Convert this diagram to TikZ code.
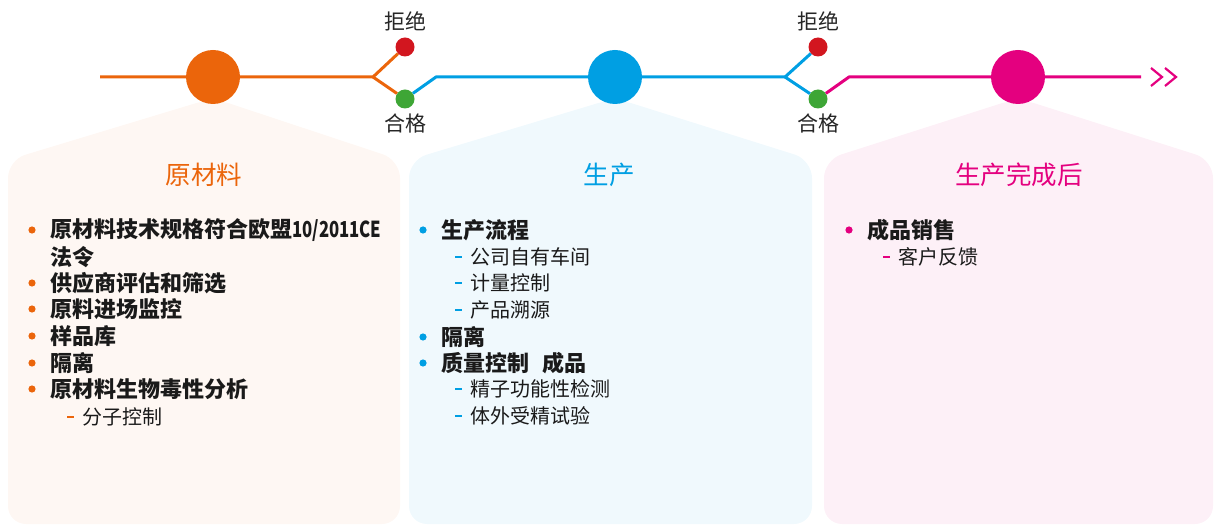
\documentclass[tikz,border=0pt]{standalone}
\usepackage{fontspec}
\setmainfont{Noto Sans CJK SC}
\usetikzlibrary{positioning}

\definecolor{matorange}{HTML}{EB650B}
\definecolor{prodblue}{HTML}{009FE3}
\definecolor{postpink}{HTML}{E4007F}
\definecolor{rejred}{HTML}{D2161F}
\definecolor{passgreen}{HTML}{3EA636}
\definecolor{inktext}{HTML}{1A1A1A}

% bullet line: name, x, y, colour, text
\newcommand{\mainitem}[5]{%
  \node[mainline] (#1) at (#2,#3) {#5};
  \fill[#4] ([xshift=-18pt]#1.west) circle (3.6pt);}
% dash line: name, x, y, colour, text
\newcommand{\subline}[5]{%
  \node[subitemtxt] (#1) at (#2,#3) {#5};
  \draw[#4,line width=1.6pt] ([xshift=-15pt]#1.west) -- ([xshift=-8pt]#1.west);}

\begin{document}
\begin{tikzpicture}[x=1pt,y=-1pt,
    stage/.style={circle,minimum size=54pt,inner sep=0pt},
    gate/.style={circle,minimum size=19pt,inner sep=0pt},
    track/.style={line width=3pt,line join=round},
    panel/.style={rounded corners=18pt},
    title/.style={font=\fontsize{25.5}{30}\selectfont},
    gatelabel/.style={font=\fontsize{21}{25}\selectfont,text=black!85},
    mainline/.style={anchor=west,inner sep=0pt,text=inktext,font=\fontsize{22}{26}\selectfont\bfseries},
    subitemtxt/.style={anchor=west,inner sep=0pt,text=inktext,font=\fontsize{20}{24}\selectfont}]
  \useasboundingbox (0,0) rectangle (1215,526);

  % panels
  \fill[panel,matorange!5] (8,160) -- (213,98) -- (400,160) -- (400,524) -- (8,524) -- cycle;
  \fill[panel,prodblue!6] (409,160) -- (615,98) -- (812,160) -- (812,524) -- (409,524) -- cycle;
  \fill[panel,postpink!6] (824,160) -- (1018,98) -- (1213,160) -- (1213,524) -- (824,524) -- cycle;

  % timeline
  \coordinate (start) at (100,77);
  \node[stage,fill=matorange] (raw) at (213,77) {};
  \coordinate (fork1) at (373,77);
  \node[gate,fill=rejred] (rej1) at (405,47) {};
  \node[gate,fill=passgreen] (ok1) at (405,99) {};
  \coordinate (bend1) at (436,77);
  \node[stage,fill=prodblue] (prod) at (615,77) {};
  \coordinate (fork2) at (785,77);
  \node[gate,fill=rejred] (rej2) at (818,47) {};
  \node[gate,fill=passgreen] (ok2) at (818,99) {};
  \coordinate (bend2) at (849,77);
  \node[stage,fill=postpink] (post) at (1018,77) {};
  \coordinate (stop) at (1141,77);

  \draw[track,matorange] (start) -- (raw) -- (fork1) -- (rej1);
  \draw[track,matorange] (fork1) -- (ok1);
  \draw[track,prodblue] (ok1) -- (bend1) -- (prod) -- (fork2) -- (rej2);
  \draw[track,prodblue] (fork2) -- (ok2);
  \draw[track,postpink] (ok2) -- (bend2) -- (post) -- (stop);
  \draw[postpink,line width=2.2pt] ([xshift=10pt,yshift=9pt]stop) -- ++(11,9) -- ++(-11,9);
  \draw[postpink,line width=2.2pt] ([xshift=24pt,yshift=9pt]stop) -- ++(11,9) -- ++(-11,9);

  \node[gatelabel] (rej1txt) at (405,21) {拒绝};
  \node[gatelabel] (ok1txt) at (405,124) {合格};
  \node[gatelabel] (rej2txt) at (818,21) {拒绝};
  \node[gatelabel] (ok2txt) at (818,124) {合格};

  % titles
  \node[title,text=matorange] (rawtitle) at (204,175) {原材料};
  \node[title,text=prodblue] (prodtitle) at (609,175) {生产};
  \node[title,text=postpink] (posttitle) at (1019,175) {生产完成后};

  % raw material list
  \mainitem{r1}{50}{230}{matorange}{原材料技术规格符合欧盟\scalebox{0.76}[1]{10/2011CE}}
  \node[mainline] (r1b) at (50,257) {法令};
  \mainitem{r2}{50}{283}{matorange}{供应商评估和筛选}
  \mainitem{r3}{50}{309}{matorange}{原料进场监控}
  \mainitem{r4}{50}{336}{matorange}{样品库}
  \mainitem{r5}{50}{363}{matorange}{隔离}
  \mainitem{r6}{50}{389}{matorange}{原材料生物毒性分析}
  \subline{r6a}{82}{417}{matorange}{分子控制}

  % production list
  \mainitem{p1}{441}{230}{prodblue}{生产流程}
  \subline{p1a}{470}{257}{prodblue}{公司自有车间}
  \subline{p1b}{470}{283}{prodblue}{计量控制}
  \subline{p1c}{470}{310}{prodblue}{产品溯源}
  \mainitem{p2}{441}{337}{prodblue}{隔离}
  \mainitem{p3}{441}{363}{prodblue}{质量控制\hspace{0.6em}成品}
  \subline{p3a}{470}{389}{prodblue}{精子功能性检测}
  \subline{p3b}{470}{416}{prodblue}{体外受精试验}

  % after production list
  \mainitem{a1}{867}{230}{postpink}{成品销售}
  \subline{a1a}{898}{257}{postpink}{客户反馈}
\end{tikzpicture}
\end{document}
